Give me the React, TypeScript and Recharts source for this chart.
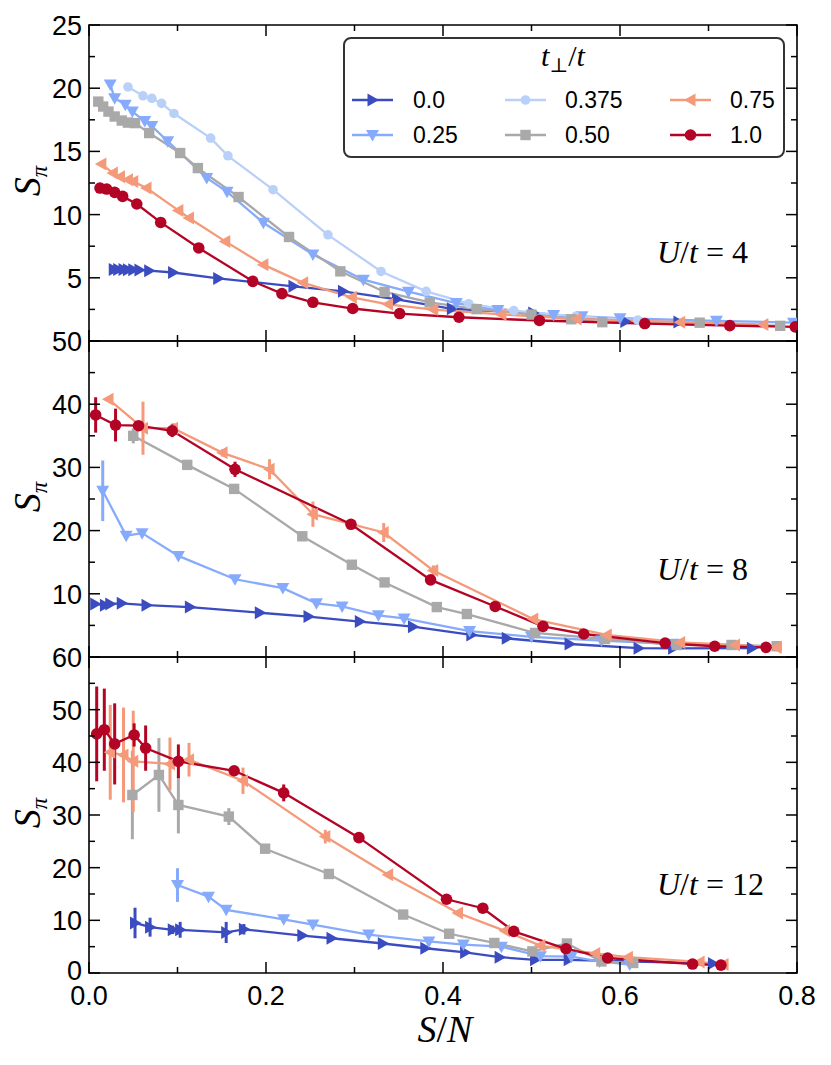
import React from "react";
import { LineChart, Line, XAxis, YAxis, ErrorBar, ReferenceArea } from "recharts";

type Pt = { x: number; y: number; e: number };

const W = 831;
const PLOT_W = 708;
const PLOT_H = 316;

// shared x ticks
const xTicks = [0, 0.1, 0.2, 0.3, 0.4, 0.5, 0.6, 0.7, 0.8];
const xTickLabels = ["0.0", "", "0.2", "", "0.4", "", "0.6", "", "0.8"];

// y ticks per panel
const yTicksU4 = [0, 2.5, 5, 7.5, 10, 12.5, 15, 17.5, 20, 22.5, 25];
const yLabelsU4 = ["", "", "5", "", "10", "", "15", "", "20", "", "25"];
const yTicksU8 = [0, 5, 10, 15, 20, 25, 30, 35, 40, 45, 50];
const yLabelsU8 = ["", "", "10", "", "20", "", "30", "", "40", "", "50"];
const yTicksU12 = [0, 5, 10, 15, 20, 25, 30, 35, 40, 45, 50, 55, 60];
const yLabelsU12 = ["0", "", "10", "", "20", "", "30", "", "40", "", "50", "", "60"];

// legend / series meta
const tperp = ["0.0", "0.25", "0.375", "0.50", "0.75", "1.0"];
const colors = ["#3b4cc0", "#87abfc", "#b9d0f9", "#a9a9a9", "#f49a7b", "#b40426"];
const shapes = ["right", "down", "dot", "square", "left", "circle"];

// ---- U/t = 4 ----
const u4x0 = [0.028, 0.033, 0.039, 0.044, 0.05, 0.057, 0.068, 0.095, 0.146, 0.231, 0.287, 0.348, 0.41, 0.502, 0.606, 0.666];
const u4y0 = [5.66, 5.66, 5.65, 5.64, 5.63, 5.62, 5.56, 5.42, 4.95, 4.33, 3.93, 3.3, 2.55, 2.22, 1.55, 1.5];
const u4x1 = [0.024, 0.029, 0.041, 0.049, 0.063, 0.071, 0.089, 0.133, 0.156, 0.197, 0.253, 0.31, 0.361, 0.415, 0.462, 0.525, 0.557, 0.6, 0.709, 0.796];
const u4y1 = [20.3, 19.2, 18.7, 18.15, 17.4, 17.0, 15.8, 12.9, 11.8, 9.35, 6.85, 4.85, 3.9, 3.0, 2.45, 2.05, 1.95, 1.8, 1.6, 1.45];
const u4x2 = [0.044, 0.061, 0.071, 0.082, 0.096, 0.1375, 0.157, 0.208, 0.27, 0.33, 0.381, 0.429, 0.48, 0.55, 0.62];
const u4y2 = [20.1, 19.4, 19.2, 18.8, 18.0, 16.05, 14.65, 11.97, 8.4, 5.5, 3.93, 2.95, 2.4, 1.95, 1.65];
const u4x3 = [0.0105, 0.016, 0.022, 0.029, 0.037, 0.044, 0.052, 0.068, 0.103, 0.123, 0.169, 0.226, 0.284, 0.334, 0.385, 0.438, 0.5, 0.545, 0.58, 0.69, 0.781];
const u4y3 = [18.94, 18.55, 18.15, 17.76, 17.44, 17.28, 17.24, 16.45, 14.87, 13.68, 11.39, 8.23, 5.51, 3.88, 3.05, 2.52, 2.09, 1.72, 1.49, 1.45, 1.2];
const u4x4 = [0.014, 0.027, 0.035, 0.044, 0.05, 0.065, 0.101, 0.113, 0.154, 0.197, 0.242, 0.297, 0.338, 0.389, 0.466, 0.551, 0.668, 0.762];
const u4y4 = [14.0, 13.3, 13.0, 12.76, 12.62, 12.1, 10.33, 9.73, 7.88, 6.04, 4.6, 3.46, 2.9, 2.49, 2.1, 1.75, 1.49, 1.3];
const u4x5 = [0.0124, 0.02, 0.029, 0.038, 0.054, 0.081, 0.124, 0.185, 0.218, 0.253, 0.298, 0.351, 0.418, 0.509, 0.628, 0.724, 0.798];
const u4y5 = [12.1, 12.02, 11.76, 11.44, 10.84, 9.38, 7.36, 4.72, 3.75, 3.06, 2.57, 2.17, 1.88, 1.62, 1.38, 1.22, 1.12];

// ---- U/t = 8 ----
const u8x0 = [0.007, 0.018, 0.024, 0.037, 0.065, 0.114, 0.193, 0.248, 0.306, 0.366, 0.432, 0.472, 0.543, 0.621, 0.66, 0.749];
const u8y0 = [8.4, 8.2, 8.4, 8.5, 8.2, 7.9, 7.0, 6.4, 5.6, 4.8, 3.5, 2.95, 2.06, 1.4, 1.37, 1.4];
const u8x1 = [0.0155, 0.042, 0.06, 0.101, 0.165, 0.219, 0.257, 0.286, 0.327, 0.356, 0.43, 0.5, 0.579, 0.66];
const u8y1 = [26.3, 19.2, 19.6, 16.0, 12.3, 10.9, 8.5, 8.0, 6.6, 6.1, 4.1, 3.2, 2.6, 2.1];
const u8e1 = [4.8, 0, 0, 0, 0, 0, 0, 0, 0, 0, 0, 0, 0, 0];
const u8x3 = [0.05, 0.111, 0.164, 0.241, 0.297, 0.334, 0.393, 0.427, 0.504, 0.583, 0.664, 0.726, 0.777];
const u8y3 = [35.0, 30.4, 26.6, 19.1, 14.6, 11.8, 7.9, 6.8, 3.8, 2.85, 1.9, 1.9, 1.7];
const u8e3 = [1.2, 0, 0, 0, 0, 0, 0, 0, 0, 0, 0, 0, 0];
const u8x4 = [0.022, 0.061, 0.095, 0.151, 0.204, 0.253, 0.333, 0.389, 0.502, 0.585, 0.668, 0.73, 0.777];
const u8y4 = [40.8, 36.2, 36.2, 32.3, 29.7, 22.6, 19.7, 13.7, 6.0, 3.5, 2.3, 1.9, 1.5];
const u8e4 = [0, 4.2, 0.8, 0.6, 1.6, 2.0, 1.5, 0.8, 0, 0, 0, 0, 0];
const u8x5 = [0.0075, 0.03, 0.056, 0.094, 0.165, 0.296, 0.386, 0.459, 0.513, 0.559, 0.651, 0.707, 0.765];
const u8y5 = [38.3, 36.7, 36.6, 35.8, 29.7, 21.0, 12.2, 8.0, 4.85, 3.64, 2.2, 1.7, 1.53];
const u8e5 = [2.8, 2.6, 0.5, 1.0, 1.2, 0.6, 0, 0, 0, 0, 0, 0, 0];

// ---- U/t = 12 ----
const u12x0 = [0.052, 0.069, 0.0946, 0.103, 0.155, 0.175, 0.241, 0.274, 0.332, 0.38, 0.425, 0.464, 0.504, 0.542, 0.705];
const u12y0 = [9.5, 8.7, 8.2, 8.2, 7.7, 8.3, 7.1, 6.6, 5.6, 4.7, 3.9, 3.0, 2.5, 2.5, 1.8];
const u12e0 = [2.9, 1.8, 0.8, 1.5, 2.0, 1.0, 0, 0, 0, 0, 0, 0, 0, 0, 0];
const u12x1 = [0.1, 0.135, 0.155, 0.22, 0.253, 0.316, 0.384, 0.423, 0.466, 0.51, 0.545, 0.577, 0.611];
const u12y1 = [16.7, 14.5, 12.0, 10.2, 9.2, 7.3, 6.0, 5.4, 5.0, 3.2, 3.1, 2.2, 1.6];
const u12e1 = [3.2, 0, 0, 0, 0, 0, 0, 0, 0, 0, 0, 0, 0];
const u12x3 = [0.049, 0.079, 0.101, 0.158, 0.199, 0.271, 0.355, 0.407, 0.458, 0.501, 0.54, 0.579, 0.615];
const u12y3 = [33.8, 37.6, 31.9, 29.7, 23.6, 18.8, 11.1, 7.45, 5.7, 4.1, 5.6, 2.2, 1.9];
const u12e3 = [8.4, 7.0, 5.4, 1.6, 0, 0, 0, 0, 0, 0, 0, 0, 0];
const u12x4 = [0.024, 0.039, 0.05, 0.0915, 0.113, 0.174, 0.267, 0.338, 0.417, 0.47, 0.51, 0.572, 0.609, 0.69, 0.717];
const u12y4 = [41.9, 41.4, 40.2, 39.7, 40.5, 36.5, 25.9, 18.65, 11.4, 8.0, 5.2, 3.7, 3.0, 2.1, 1.6];
const u12e4 = [9.0, 9.0, 9.6, 5.0, 3.2, 2.5, 1.3, 0, 0, 0, 0, 0, 0, 0, 0];
const u12x5 = [0.0087, 0.0173, 0.029, 0.051, 0.064, 0.101, 0.164, 0.22, 0.305, 0.404, 0.445, 0.48, 0.539, 0.586, 0.682, 0.714];
const u12y5 = [45.4, 46.2, 43.5, 45.2, 42.7, 40.2, 38.4, 34.2, 25.7, 14.0, 12.3, 7.9, 4.6, 2.85, 1.7, 1.5];
const u12e5 = [9.0, 7.8, 7.7, 2.2, 4.3, 3.2, 0.6, 1.6, 0, 0, 0, 0, 0, 0, 0, 0];

const mk = (xs: number[], ys: number[], es?: number[]): Pt[] =>
  xs.map((x, i) => ({ x, y: ys[i], e: es ? es[i] : 0 }));

const panelU4 = [mk(u4x0, u4y0), mk(u4x1, u4y1), mk(u4x2, u4y2), mk(u4x3, u4y3), mk(u4x4, u4y4), mk(u4x5, u4y5)];
const panelU8 = [mk(u8x0, u8y0), mk(u8x1, u8y1, u8e1), null, mk(u8x3, u8y3, u8e3), mk(u8x4, u8y4, u8e4), mk(u8x5, u8y5, u8e5)];
const panelU12 = [
  mk(u12x0, u12y0, u12e0),
  mk(u12x1, u12y1, u12e1),
  null,
  mk(u12x3, u12y3, u12e3),
  mk(u12x4, u12y4, u12e4),
  mk(u12x5, u12y5, u12e5),
];

const sans = "'Liberation Sans', Arial, sans-serif";
const serif = "'Liberation Serif', 'DejaVu Serif', serif";

// find a tick's position in its list (values can come back as strings)
const tickIndex = (list: number[], v: any, fallback: number) => {
  const n = Number(v);
  const i = list.findIndex((t) => Math.abs(t - n) < 1e-6);
  return i >= 0 ? i : fallback;
};

function Marker({ cx, cy, shape, color }: { cx: number; cy: number; shape: string; color: string }) {
  if (cx == null || cy == null || isNaN(cx) || isNaN(cy)) return null;
  switch (shape) {
    case "circle":
      return <circle cx={cx} cy={cy} r={5.8} fill={color} />;
    case "dot":
      return <circle cx={cx} cy={cy} r={4.8} fill={color} />;
    case "square":
      return <rect x={cx - 5.2} y={cy - 5.2} width={10.4} height={10.4} fill={color} />;
    case "right":
      return <polygon points={`${cx + 6.5},${cy} ${cx - 5},${cy - 6.5} ${cx - 5},${cy + 6.5}`} fill={color} />;
    case "left":
      return <polygon points={`${cx - 6.5},${cy} ${cx + 5},${cy - 6.5} ${cx + 5},${cy + 6.5}`} fill={color} />;
    case "down":
      return <polygon points={`${cx - 6.5},${cy - 5} ${cx + 6.5},${cy - 5} ${cx},${cy + 6.5}`} fill={color} />;
    default:
      return null;
  }
}

function XTick(props: any) {
  const { x, y, payload, index, showLabel } = props;
  const i = tickIndex(xTicks, payload?.value, index ?? -1);
  const major = i % 2 === 0;
  const len = major ? 11 : 6;
  return (
    <g>
      <line x1={x} x2={x} y1={y} y2={y - len} stroke="#000" strokeWidth={1.5} />
      <line x1={x} x2={x} y1={y - PLOT_H} y2={y - PLOT_H + len} stroke="#000" strokeWidth={1.5} />
      {showLabel && xTickLabels[i] ? (
        <text x={x} y={y + 32} textAnchor="middle" fontSize={27} fontFamily={sans} fill="#000">
          {xTickLabels[i]}
        </text>
      ) : null}
    </g>
  );
}

function YTick(props: any) {
  const { x, y, payload, index, ticks, labels } = props;
  const i = tickIndex(ticks, payload?.value, index ?? -1);
  const major = i % 2 === 0;
  const len = major ? 11 : 6;
  return (
    <g>
      <line x1={x} x2={x + len} y1={y} y2={y} stroke="#000" strokeWidth={1.5} />
      <line x1={x + PLOT_W} x2={x + PLOT_W - len} y1={y} y2={y} stroke="#000" strokeWidth={1.5} />
      {labels[i] ? (
        <text x={x - 7} y={y + (i === 0 && labels === yLabelsU12 ? 7 : 10)} textAnchor="end" fontSize={27} fontFamily={sans} fill="#000">
          {labels[i]}
        </text>
      ) : null}
    </g>
  );
}

function Panel({
  top,
  height,
  marginBottom,
  yMax,
  yTicks,
  yLabels,
  series,
  showX,
}: {
  top: number;
  height: number;
  marginBottom: number;
  yMax: number;
  yTicks: number[];
  yLabels: string[];
  series: (Pt[] | null)[];
  showX: boolean;
}) {
  return (
    <div style={{ position: "absolute", left: 0, top }}>
      <LineChart width={W} height={height} margin={{ top: 25, right: 34, bottom: marginBottom, left: 29 }} style={{ overflow: "visible" }}>
        <XAxis
          type="number"
          dataKey="x"
          domain={[0, 0.8]}
          ticks={xTicks}
          interval={0}
          allowDataOverflow
          height={1}
          axisLine={false}
          tickLine={false}
          tickSize={0}
          tickMargin={0}
          tick={(p: any) => <XTick {...p} showLabel={showX} />}
        />
        <YAxis
          type="number"
          domain={[0, yMax]}
          ticks={yTicks}
          interval={0}
          allowDataOverflow
          width={60}
          axisLine={false}
          tickLine={false}
          tickSize={0}
          tickMargin={0}
          tick={(p: any) => <YTick {...p} ticks={yTicks} labels={yLabels} />}
        />
        {series.map((d, k) =>
          d ? (
            <Line
              key={tperp[k]}
              data={d}
              dataKey="y"
              type="linear"
              stroke={colors[k]}
              strokeWidth={2.3}
              isAnimationActive={false}
              activeDot={false}
              dot={(p: any) => <Marker key={`m${k}-${p.index}`} cx={p.cx} cy={p.cy} shape={shapes[k]} color={colors[k]} />}
            >
              <ErrorBar dataKey="e" direction="y" width={0} stroke={colors[k]} strokeWidth={3} />
            </Line>
          ) : null
        )}
        <ReferenceArea x1={0} x2={0.8} y1={0} y2={yMax} fill="none" fillOpacity={0} stroke="#000" strokeWidth={1.6} />
      </LineChart>
    </div>
  );
}

function SPiLabel({ cy }: { cy: number }) {
  return (
    <text transform={`translate(40,${cy}) rotate(-90)`} textAnchor="middle" fontFamily={serif} fontSize={38} fill="#000">
      <tspan fontStyle="italic">S</tspan>
      <tspan fontStyle="italic" fontSize={23} dy={7}>
        π
      </tspan>
    </text>
  );
}

function ULabel({ y, value }: { y: number; value: string }) {
  return (
    <text x={657} y={y} fontFamily={serif} fontSize={32} fill="#000">
      <tspan fontStyle="italic">U</tspan>
      <tspan>/</tspan>
      <tspan fontStyle="italic">t</tspan>
      <tspan dx={8}>=</tspan>
      <tspan dx={8}>{value}</tspan>
    </text>
  );
}

const legendCols = [352, 505, 670];
const legendTextX = [413, 565, 730];
const legendRows = [100, 135];

function Overlay() {
  return (
    <svg width={W} height={1065} style={{ position: "absolute", left: 0, top: 0, pointerEvents: "none" }}>
      <rect x={344} y={38} width={440} height={119} rx={7} fill="#fff" stroke="#333" strokeWidth={2} />
      <text x={563} y={66} textAnchor="middle" fontFamily={serif} fontSize={30} fill="#000">
        <tspan fontStyle="italic">t</tspan>
        <tspan fontSize={20} dy={6}>⊥</tspan>
        <tspan dy={-6}>/</tspan>
        <tspan fontStyle="italic">t</tspan>
      </text>
      {tperp.map((lab, k) => {
        const col = Math.floor(k / 2);
        const row = k % 2;
        const x0 = legendCols[col];
        const yy = legendRows[row];
        return (
          <g key={lab}>
            <line x1={x0} x2={x0 + 41} y1={yy} y2={yy} stroke={colors[k]} strokeWidth={2.3} />
            <Marker cx={x0 + 20.5} cy={yy} shape={shapes[k]} color={colors[k]} />
            <text x={legendTextX[col]} y={yy + 8} fontFamily={sans} fontSize={23} fill="#000">
              {lab}
            </text>
          </g>
        );
      })}
      <SPiLabel cy={181} />
      <SPiLabel cy={497} />
      <SPiLabel cy={813} />
      <ULabel y={263} value="4" />
      <ULabel y={580} value="8" />
      <ULabel y={895} value="12" />
      <text x={445} y={1042} textAnchor="middle" fontFamily={serif} fontSize={38} fill="#000">
        <tspan fontStyle="italic">S</tspan>
        <tspan>/</tspan>
        <tspan fontStyle="italic">N</tspan>
      </text>
    </svg>
  );
}

export default function App() {
  return (
    <div style={{ position: "absolute", left: 0, top: 0, width: W, height: 1065, background: "#fff" }}>
      <Panel top={0} height={346} marginBottom={4} yMax={25} yTicks={yTicksU4} yLabels={yLabelsU4} series={panelU4} showX={false} />
      <Panel top={316} height={346} marginBottom={4} yMax={50} yTicks={yTicksU8} yLabels={yLabelsU8} series={panelU8} showX={false} />
      <Panel top={632} height={434} marginBottom={92} yMax={60} yTicks={yTicksU12} yLabels={yLabelsU12} series={panelU12} showX={true} />
      <Overlay />
    </div>
  );
}
